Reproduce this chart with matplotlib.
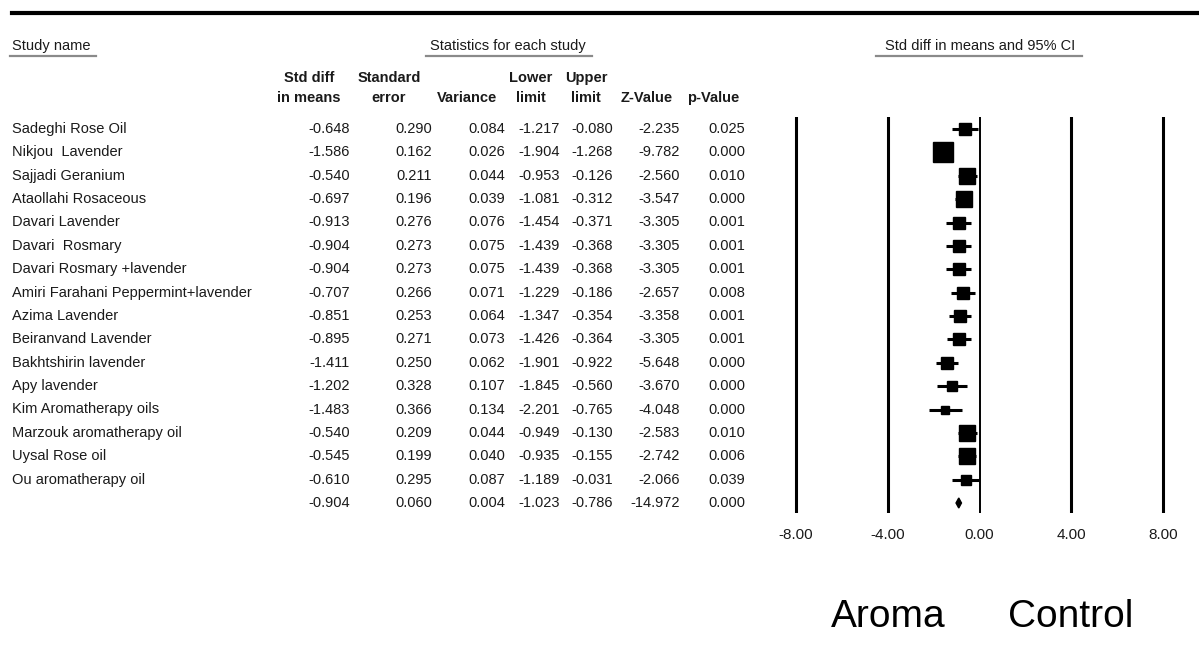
import matplotlib
matplotlib.use('Agg')
import matplotlib.pyplot as plt
import numpy as np
from matplotlib.patches import Polygon

plt.rcParams['font.family'] = ['Liberation Sans', 'DejaVu Sans']

## study data
studies = ['Sadeghi Rose Oil', 'Nikjou  Lavender', 'Sajjadi Geranium', 'Ataollahi Rosaceous',
           'Davari Lavender', 'Davari  Rosmary', 'Davari Rosmary +lavender',
           'Amiri Farahani Peppermint+lavender', 'Azima Lavender', 'Beiranvand Lavender',
           'Bakhtshirin lavender', 'Apy lavender', 'Kim Aromatherapy oils',
           'Marzouk aromatherapy oil', 'Uysal Rose oil', 'Ou aromatherapy oil']
smd = [-0.648, -1.586, -0.540, -0.697, -0.913, -0.904, -0.904, -0.707, -0.851, -0.895,
       -1.411, -1.202, -1.483, -0.540, -0.545, -0.610]
se = [0.290, 0.162, 0.211, 0.196, 0.276, 0.273, 0.273, 0.266, 0.253, 0.271,
      0.250, 0.328, 0.366, 0.209, 0.199, 0.295]
variance = [0.084, 0.026, 0.044, 0.039, 0.076, 0.075, 0.075, 0.071, 0.064, 0.073,
            0.062, 0.107, 0.134, 0.044, 0.040, 0.087]
lower = [-1.217, -1.904, -0.953, -1.081, -1.454, -1.439, -1.439, -1.229, -1.347, -1.426,
         -1.901, -1.845, -2.201, -0.949, -0.935, -1.189]
upper = [-0.080, -1.268, -0.126, -0.312, -0.371, -0.368, -0.368, -0.186, -0.354, -0.364,
         -0.922, -0.560, -0.765, -0.130, -0.155, -0.031]
zval = [-2.235, -9.782, -2.560, -3.547, -3.305, -3.305, -3.305, -2.657, -3.358, -3.305,
        -5.648, -3.670, -4.048, -2.583, -2.742, -2.066]
pval = [0.025, 0.000, 0.010, 0.000, 0.001, 0.001, 0.001, 0.008, 0.001, 0.001,
        0.000, 0.000, 0.000, 0.010, 0.006, 0.039]
## pooled estimate: smd, se, variance, lower, upper, z, p
pooled = [-0.904, 0.060, 0.004, -1.023, -0.786, -14.972, 0.000]

ticks = [-8, -4, 0, 4, 8]
tick_labels = ['-8.00', '-4.00', '0.00', '4.00', '8.00']

## layout in pixels
W, H = 1199, 668
ROW0, STEP = 129, 23.375
X0PX, PPU = 979.5, 22.94   # pixel of 0 on the CI scale, pixels per unit
TXT = '#1a1a1a'
FS = 10.5

fig = plt.figure(figsize=(W/100, H/100), dpi=100)
bg = fig.add_axes([0, 0, 1, 1])
bg.set_xlim(0, W)
bg.set_ylim(H, 0)
bg.axis('off')

bg.axhline(13, xmin=12/W, xmax=1, color='black', lw=3)

## group headers
bg.text(12, 46, 'Study name', fontsize=FS, color=TXT, va='center')
bg.text(508, 46, 'Statistics for each study', fontsize=FS, color=TXT, va='center', ha='center')
bg.text(980, 46, 'Std diff in means and 95% CI', fontsize=FS, color=TXT, va='center', ha='center')
for x1, x2 in [(10, 96), (426, 592), (876, 1082)]:
    bg.plot([x1, x2], [56, 56], color='#8a8a8a', lw=1.6)

## column headers
col_right = [350, 432, 505, 560, 613, 680, 745]
heads = [('Std diff', 'in means', 309), ('Standard', 'error', 389), ('', 'Variance', 467),
         ('Lower', 'limit', 531), ('Upper', 'limit', 586), ('', 'Z-Value', 647), ('', 'p-Value', 713)]
for h1, h2, xc in heads:
    bg.text(xc, 78, h1, fontsize=FS, fontweight='bold', color=TXT, ha='center', va='center')
    bg.text(xc, 98, h2, fontsize=FS, fontweight='bold', color=TXT, ha='center', va='center')

## table body
cols = [smd, se, variance, lower, upper, zval, pval]
for i, name in enumerate(studies):
    y = ROW0 + i*STEP
    bg.text(12, y, name, fontsize=FS, color=TXT, va='center')
    for xr, col in zip(col_right, cols):
        bg.text(xr, y, f'{col[i]:.3f}', fontsize=FS, color=TXT, va='center', ha='right')
y = ROW0 + len(studies)*STEP
for xr, v in zip(col_right, pooled):
    bg.text(xr, y, f'{v:.3f}', fontsize=FS, color=TXT, va='center', ha='right')

## forest plot axes
top_px, bot_px = 117, 513
left_px, right_px = 770, 1190
nrow = len(studies)
ax = fig.add_axes([left_px/W, 1 - bot_px/H, (right_px-left_px)/W, (bot_px-top_px)/H])
ax.patch.set_alpha(0)
ax.set_xlim((left_px - X0PX)/PPU, (right_px - X0PX)/PPU)
ax.set_ylim(nrow + (bot_px - (ROW0 + nrow*STEP))/STEP, -(ROW0 - top_px)/STEP)
for s in ax.spines.values():
    s.set_visible(False)
ax.set_yticks([])
ax.set_xticks(ticks)
ax.set_xticklabels(tick_labels, fontsize=11, color=TXT)
ax.tick_params(axis='x', length=0, pad=11)

for t in ticks:
    ax.axvline(t, color='black', lw=1.4 if t == 0 else 2.2, zorder=1)

rows = np.arange(nrow)
ax.hlines(rows, lower, upper, color='black', lw=2.2, zorder=2)
side_px = 20 * min(se) / np.array(se)
for r, m, s in zip(rows, smd, side_px):
    ax.plot(m, r, marker='s', ms=s*0.72, color='black', mec='black', zorder=3)

## pooled diamond
hh = 5 / STEP
ax.add_patch(Polygon([[pooled[3], nrow], [pooled[0], nrow - hh], [pooled[4], nrow], [pooled[0], nrow + hh]],
                     closed=True, color='black', zorder=3))

## direction labels
bg.text(888, 617, 'Aroma', fontsize=28, color='black', ha='center', va='center')
bg.text(1071, 617, 'Control', fontsize=28, color='black', ha='center', va='center')

fig.savefig('out.png', dpi=100)
